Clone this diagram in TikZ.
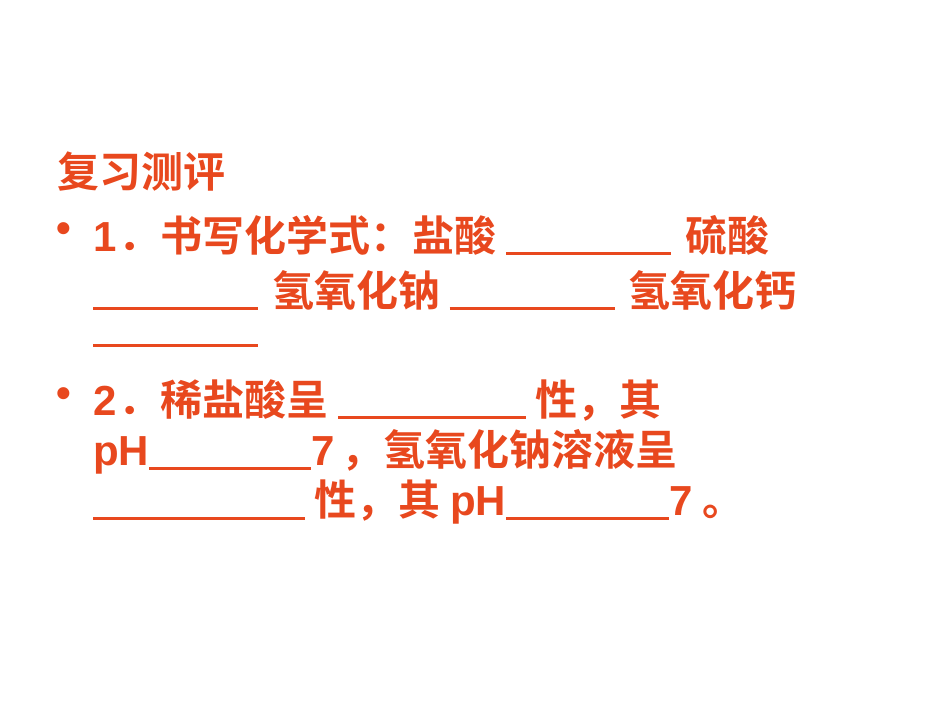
\documentclass[tikz,border=0pt]{standalone}
\usepackage{fontspec}
\setmainfont{Noto Sans CJK SC}[BoldFont={Noto Sans CJK SC Bold}]
\newfontfamily\lat{Liberation Sans}[BoldFont={Liberation Sans Bold}]
\definecolor{txt}{RGB}{232,72,30}
\newcommand{\bl}[1]{\rule[-4pt]{#1pt}{2.6pt}}
\begin{document}
\begin{tikzpicture}[x=1pt,y=-1pt,
  line/.style={anchor=west,inner sep=0pt,text=txt,font=\fontsize{42}{48}\selectfont\bfseries}]
\useasboundingbox (0,0) rectangle (950,713);
\node[line] (t) at (57,172) {复习测评};
\node[line] (b1) at (56,233) {\lat •};
\node[line] (l1) at (93,235) {{\lat 1}\hspace{2pt}．书写化学式：盐酸 \bl{165}\hspace{14pt}硫酸};
\node[line] (l2) at (93,290) {\bl{165}\hspace{14pt}氢氧化钠 \bl{165}\hspace{14pt}氢氧化钙};
\node[line] (l3) at (93,345) {\bl{165}};
\node[line] (b2) at (56,398) {\lat •};
\node[line] (l4) at (93,400) {{\lat 2}\hspace{2pt}．稀盐酸呈 \bl{188} 性，其};
\node[line] (l5) at (93,452) {{\lat pH}\bl{162}{\lat 7}\,，氢氧化钠溶液呈};
\node[line] (l6) at (93,502) {\bl{212} 性，其 {\lat pH}\bl{163}{\lat 7} 。};
\end{tikzpicture}
\end{document}
